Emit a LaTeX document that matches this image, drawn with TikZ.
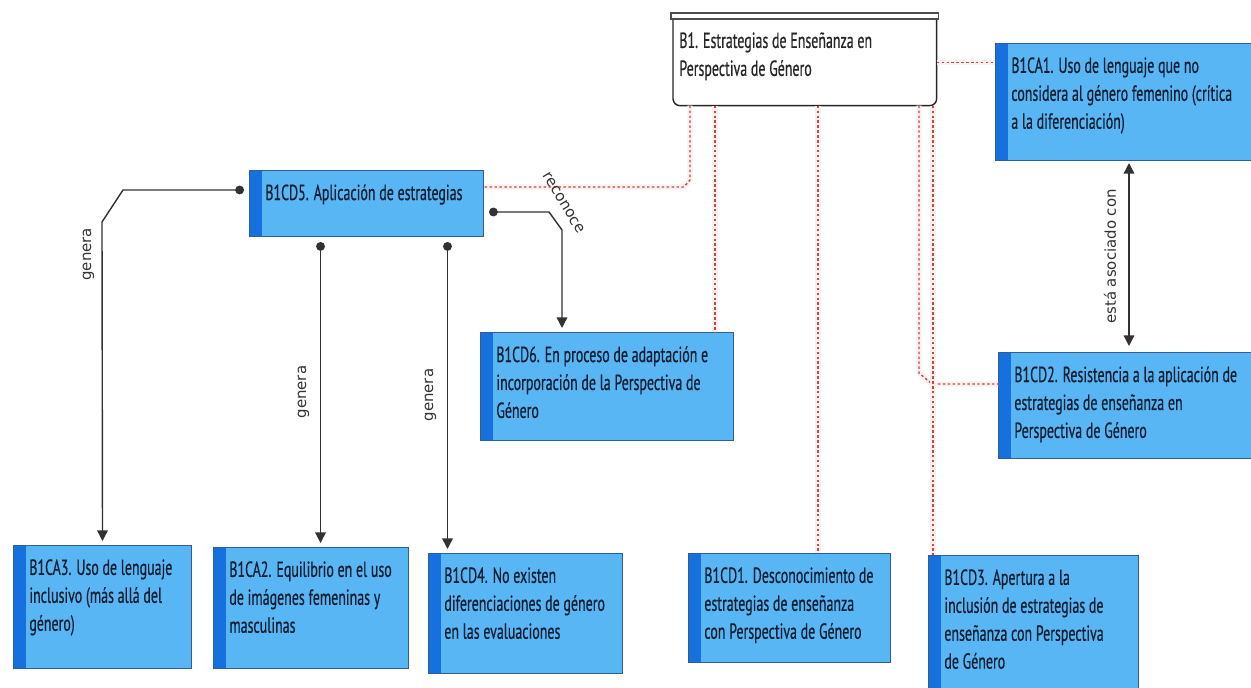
\documentclass[tikz,border=0pt]{standalone}
\usepackage{fontspec}
\setmainfont{PT Sans}[FakeStretch=0.64, FakeBold=0.5]
\newfontfamily\lblfont{DejaVu Sans}
\usetikzlibrary{arrows.meta}
\definecolor{boxblue}{RGB}{88,182,245}
\definecolor{stripeblue}{RGB}{22,112,222}
\definecolor{boxline}{RGB}{45,95,145}
\definecolor{boxtext}{RGB}{18,30,48}
\definecolor{linkred}{RGB}{200,70,70}
\definecolor{linkgray}{RGB}{50,50,50}
\tikzset{
  cbox/.style={draw=boxline, line width=.6pt, fill=boxblue, anchor=north west, inner sep=0pt,
    path picture={\fill[stripeblue] (path picture bounding box.north west) rectangle ([xshift=.24cm]path picture bounding box.south west);}},
  ctext/.style={anchor=north west, align=left, inner sep=0pt, text=boxtext, font=\fontsize{12.4}{15.9}\selectfont},
  gen/.style={draw=linkgray, line width=.8pt, {Circle[length=5pt]}-{Triangle[length=6pt,width=6pt]}, shorten <=.1cm, shorten >=.08cm},
  assoc/.style={draw=linkgray, line width=.8pt, {Triangle[length=6pt,width=6pt]}-{Triangle[length=6pt,width=6pt]}, shorten <=.04cm, shorten >=.12cm},
  rel/.style={draw=linkred, line width=.8pt, dash pattern=on 1.4pt off 1.4pt, preaction={draw=linkred!8, line width=3pt, solid}},
  lbl/.style={font=\lblfont\fontsize{8.5}{9}\selectfont, text=linkgray, inner xsep=1pt, inner ysep=5pt, anchor=south}
}
\begin{document}
\begin{tikzpicture}[x=0.02cm, y=-0.02cm]
  \useasboundingbox (0,0) rectangle (1251,688);

  % top category
  \node[fill=white, anchor=north west, minimum width=5.26cm, minimum height=1.72cm, inner sep=0pt] (b1) at (673,19) {};
  \draw[black!85, line width=.8pt, rounded corners=4pt] (b1.north west) -- (b1.south west) -- (b1.south east) -- (b1.north east);
  \draw[fill=white, draw=black!70, line width=.6pt] ([xshift=-.04cm]b1.north west) rectangle ([xshift=.04cm, yshift=.12cm]b1.north east);
  \node[ctext, text=black!85] (b1txt) at ([shift={(6,13)}]b1.north west) {B1. Estrategias de Enseñanza en\\Perspectiva de Género};

  % codes
  \node[cbox, minimum width=5.34cm, minimum height=2.34cm] (ca1) at (995,43) {};
  \node[cbox, minimum width=4.68cm, minimum height=1.32cm] (cd5) at (249,170) {};
  \node[cbox, minimum width=5.06cm, minimum height=2.16cm] (cd6) at (480,332) {};
  \node[cbox, minimum width=5.28cm, minimum height=2.12cm] (cd2) at (998,352) {};
  \node[cbox, minimum width=3.56cm, minimum height=2.46cm] (ca3) at (13,545) {};
  \node[cbox, minimum width=3.9cm, minimum height=2.42cm] (ca2) at (213,547) {};
  \node[cbox, minimum width=3.88cm, minimum height=2.4cm] (cd4) at (428,553) {};
  \node[cbox, minimum width=4.04cm, minimum height=2.18cm] (cd1) at (688,553) {};
  \node[cbox, minimum width=4.2cm, minimum height=2.8cm] (cd3) at (928,555) {};

  \node[ctext] (ca1txt) at ([shift={(16,14)}]ca1.north west) {B1CA1. Uso de lenguaje que no\\considera al género femenino (crítica\\a la diferenciación)};
  \node[ctext] (cd5txt) at ([shift={(16,14)}]cd5.north west) {B1CD5. Aplicación de estrategias};
  \node[ctext] (cd6txt) at ([shift={(16,14)}]cd6.north west) {B1CD6. En proceso de adaptación e\\incorporación de la Perspectiva de\\Género};
  \node[ctext] (cd2txt) at ([shift={(16,14)}]cd2.north west) {B1CD2. Resistencia a la aplicación de\\estrategias de enseñanza en\\Perspectiva de Género};
  \node[ctext] (ca3txt) at ([shift={(16,14)}]ca3.north west) {B1CA3. Uso de lenguaje\\inclusivo (más allá del\\género)};
  \node[ctext] (ca2txt) at ([shift={(16,14)}]ca2.north west) {B1CA2. Equilibrio en el uso\\de imágenes femeninas y\\masculinas};
  \node[ctext] (cd4txt) at ([shift={(16,14)}]cd4.north west) {B1CD4. No existen\\diferenciaciones de género\\en las evaluaciones};
  \node[ctext] (cd1txt) at ([shift={(16,14)}]cd1.north west) {B1CD1. Desconocimiento de\\estrategias de enseñanza\\con Perspectiva de Género};
  \node[ctext] (cd3txt) at ([shift={(16,14)}]cd3.north west) {B1CD3. Apertura a la\\inclusión de estrategias de\\enseñanza con Perspectiva\\de Género};

  % dotted links from B1
  \draw[rel] (b1.east) -- (b1.east -| ca1.west);
  \draw[rel] ([xshift=.34cm]b1.south west) -- (690,180) -- (684,187) -- ([yshift=-.34cm]cd5.north east);
  \draw[rel] ([xshift=.84cm]b1.south west) -- ([xshift=.84cm]b1.south west |- cd6.north);
  \draw[rel] ([xshift=2.9cm]b1.south west) -- ([xshift=2.9cm]b1.south west |- cd1.north);
  \draw[rel] ([xshift=4.92cm]b1.south west) -- (919,373) -- (932,384) -- ([yshift=-.64cm]cd2.north west);
  \draw[rel] ([xshift=5.2cm]b1.south west) -- ([xshift=5.2cm]b1.south west |- cd3.north);

  % links from B1CD5
  \coordinate (rk) at (562,230);
  \draw[gen] ([yshift=-.4cm]cd5.north west) -- (123,190) -- (102,222) -- node[lbl, rotate=90, pos=.1, inner ysep=4pt] {genera} (ca3.north);
  \draw[gen] ([xshift=-.92cm]cd5.south) -- node[lbl, rotate=90, inner ysep=6pt] {genera} ([xshift=-.92cm]cd5.south |- ca2.north);
  \draw[gen] ([xshift=1.62cm]cd5.south) -- node[lbl, rotate=90, inner ysep=6pt] {genera} ([xshift=1.62cm]cd5.south |- cd4.north);
  \draw[gen] ([yshift=-.84cm]cd5.north east) -- (549,212) -- node[lbl, rotate=-59, pos=0, inner ysep=7pt] {reconoce} (rk) -- (rk |- cd6.north);

  \draw[assoc] (ca1.south) -- node[lbl, rotate=90, inner ysep=7pt] {está asociado con} (ca1.south |- cd2.north);
\end{tikzpicture}
\end{document}
